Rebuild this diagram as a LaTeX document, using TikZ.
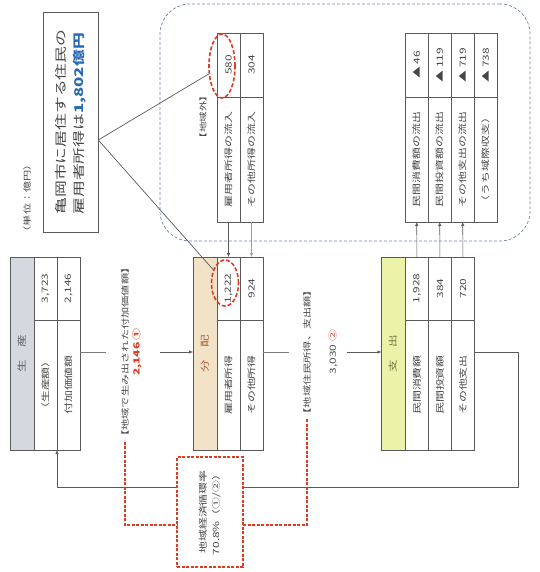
\documentclass[tikz,border=0pt]{standalone}
\usepackage{fontspec}
\setmainfont{Noto Sans CJK JP}[FakeStretch=1.4]
\usetikzlibrary{arrows.meta, positioning, shapes.geometric}
\definecolor{ecogrey}{RGB}{90, 90, 90}
\definecolor{ecotext}{RGB}{70, 70, 70}
\definecolor{seifill}{RGB}{213, 217, 223}
\definecolor{bunfill}{RGB}{242, 226, 200}
\definecolor{shifill}{RGB}{236, 243, 168}
\definecolor{bunhead}{RGB}{170, 95, 50}
\definecolor{shihead}{RGB}{110, 120, 70}
\definecolor{ecored}{RGB}{220, 60, 35}
\definecolor{ecoblue}{RGB}{40, 105, 180}
\definecolor{outline}{RGB}{110, 130, 170}
\newcommand{\rt}[1]{\rotatebox{90}{#1}}
\tikzset{
  cell/.style={draw=ecogrey, line width=0.5pt, inner sep=0pt, outer sep=0pt, text=ecotext, font=\fontsize{8.5}{10}\selectfont},
  headc/.style={cell, minimum width=24pt, minimum height=193pt, font=\fontsize{9}{10}\selectfont},
  numc/.style={cell, minimum width=23pt, minimum height=63pt},
  labc/.style={cell, minimum width=23pt, minimum height=130pt},
  numo/.style={cell, minimum width=23pt, minimum height=64pt},
  labo/.style={cell, minimum width=23pt, minimum height=125pt},
  flowlbl/.style={inner sep=0pt, text=ecotext, font=\fontsize{8}{10}\selectfont},
  ring/.style={ellipse, draw=ecored, line width=1.6pt, dash pattern=on 4pt off 2pt, inner sep=0pt},
  arr/.style={-{Latex[length=4pt, width=3.5pt]}, line width=0.6pt, ecogrey},
  flow/.style={line width=0.5pt, ecogrey!80},
  lead/.style={line width=0.7pt, ecogrey},
  rline/.style={draw=ecored, line width=1.3pt, dash pattern=on 3pt off 1.5pt}
}
\begin{document}
\begin{tikzpicture}[x=1pt, y=-1pt]
\useasboundingbox (0,0) rectangle (539,572);
\node[draw=outline, line width=0.7pt, dash pattern=on 3pt off 2pt, rounded corners=30pt, minimum width=370pt, minimum height=237pt] (outer) at (345,122.5) {};
\node[flowlbl, font=\fontsize{7.5}{9}\selectfont] (outlbl) at (203,117) {\rt{【地域外】}};
\node[flowlbl] (unit) at (27,198) {\rt{（単位：億円）}};
\node[draw=ecogrey, line width=0.6pt, minimum width=55pt, minimum height=220pt, inner sep=0pt, text=ecotext, font=\fontsize{12}{18}\selectfont] (note) at (70.5,122) {\rt{\begin{tabular}{@{}l@{}}亀岡市に居住する住民の\\雇用者所得は\textcolor{ecoblue}{\bfseries 1,802億円}\end{tabular}}};

\node[headc, fill=seifill, text=ecogrey] (seih) at (22,353.5) {\rt{生　産}};
\node[numc, anchor=north west] (s1n) at (seih.north east) {\rt{3,723}};
\node[labc, below=0pt of s1n] (s1l) {\rt{（生産額）}};
\node[numc, right=0pt of s1n] (s2n) {\rt{2,146}};
\node[labc, below=0pt of s2n] (s2l) {\rt{付加価値額}};

\node[headc, fill=bunfill, text=bunhead] (bunh) at (205,353.5) {\rt{分　配}};
\node[numc, anchor=north west] (b1n) at (bunh.north east) {\rt{1,222}};
\node[labc, below=0pt of b1n] (b1l) {\rt{雇用者所得}};
\node[numc, right=0pt of b1n] (b2n) {\rt{924}};
\node[labc, below=0pt of b2n] (b2l) {\rt{その他所得}};

\node[headc, fill=shifill, text=shihead] (shih) at (393.5,353.5) {\rt{支　出}};
\node[numc, anchor=north west] (x1n) at (shih.north east) {\rt{1,928}};
\node[labc, below=0pt of x1n] (x1l) {\rt{民間消費額}};
\node[numc, right=0pt of x1n] (x2n) {\rt{384}};
\node[labc, below=0pt of x2n] (x2l) {\rt{民間投資額}};
\node[numc, right=0pt of x2n] (x3n) {\rt{720}};
\node[labc, below=0pt of x3n] (x3l) {\rt{その他支出}};

\node[numo, anchor=north west] (i1n) at (217,33) {\rt{580}};
\node[labo, below=0pt of i1n] (i1l) {\rt{雇用者所得の流入}};
\node[numo, right=0pt of i1n] (i2n) {\rt{304}};
\node[labo, below=0pt of i2n] (i2l) {\rt{その他所得の流入}};

\node[numo, anchor=north west] (o1n) at (405,33) {\rt{▲ 46}};
\node[labo, below=0pt of o1n] (o1l) {\rt{民間消費額の流出}};
\node[numo, right=0pt of o1n] (o2n) {\rt{▲ 119}};
\node[labo, below=0pt of o2n] (o2l) {\rt{民間投資額の流出}};
\node[numo, right=0pt of o2n] (o3n) {\rt{▲ 719}};
\node[labo, below=0pt of o3n] (o3l) {\rt{その他支出の流出}};
\node[numo, right=0pt of o3n] (o4n) {\rt{▲ 738}};
\node[labo, below=0pt of o4n] (o4l) {\rt{（うち域際収支）}};

\node[ring, minimum width=26pt, minimum height=64pt] (ring1) at (222,66) {};
\node[ring, minimum width=27pt, minimum height=46pt] (ring2) at (225,283) {};
\coordinate (notept) at ([yshift=-18pt]note.east);
\draw[lead] (notept) -- (ring1);
\draw[lead] (notept) -- (ring2);

\draw[arr] (i1l) -- (b1n);
\draw[arr, ecogrey!60] (i2l) -- (b2n);
\draw[arr] (x1n) -- (o1l);
\draw[arr] (x2n) -- (o2l);
\draw[arr] (x3n) -- (o3l);

\node[flowlbl, outer xsep=15pt] (lbl1) at (125,352) {\rt{【地域で生み出された付加価値額】}};
\node[flowlbl, outer xsep=18pt, text=ecored, font=\fontsize{8.5}{10}\selectfont\bfseries] (num1) at (137,352) {\rt{2,146 ①}};
\node[flowlbl, outer xsep=14pt] (lbl2) at (307,352) {\rt{【地域住民所得、支出額】}};
\node[flowlbl, outer xsep=10pt, font=\fontsize{8.5}{10}\selectfont] (num2) at (333,352) {\rt{3,030 \textcolor{ecored}{②}}};
\draw[flow] (s2l.east |- lbl1) -- (lbl1.west);
\draw[flow, arr] (num1.east) -- (bunh.west |- num1);
\draw[flow] (b2l.east |- lbl2) -- (lbl2.west);
\draw[flow, arr] (num2.east) -- (shih.west |- num2);

\coordinate (loopc) at (518,487);
\draw[arr] (x3l.east |- lbl2) -| (loopc) -| (s1l.south east);

\node[draw=ecored, fill=white, line width=1.3pt, dash pattern=on 3pt off 1.5pt, minimum width=66pt, minimum height=110pt, inner sep=0pt, outer sep=0pt, text=ecotext, font=\fontsize{8.5}{13}\selectfont] (ratio) at (210,512) {\rt{\begin{tabular}{@{}c@{}}地域経済循環率\\70.8\%（①/②）\end{tabular}}};
\draw[rline] (lbl1.south) |- ([yshift=-13pt]ratio.west);
\draw[rline] (lbl2.south) |- ([yshift=-13pt]ratio.east);
\end{tikzpicture}
\end{document}
